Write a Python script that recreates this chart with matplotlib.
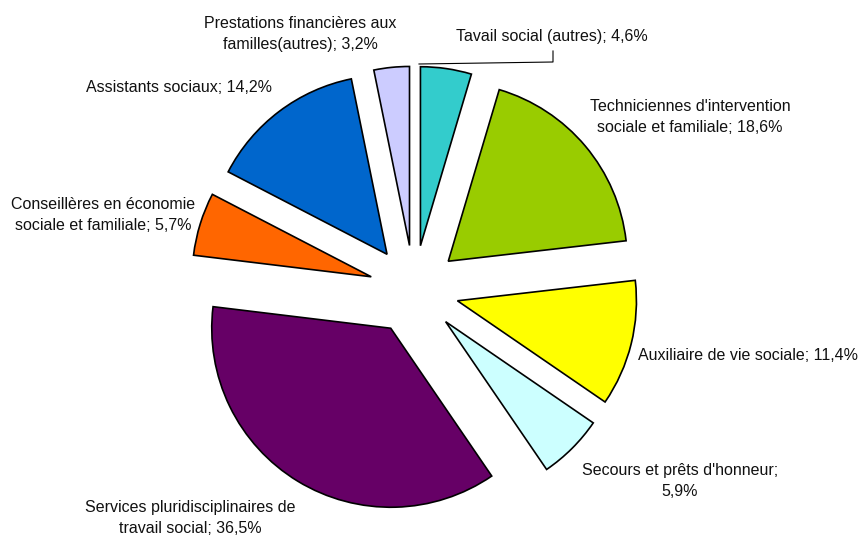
import matplotlib.pyplot as plt

# Parts (sens horaire depuis le haut)
libelles = ["Tavail social (autres); 4,6%",
            "Techniciennes d'intervention\nsociale et familiale; 18,6%",
            "Auxiliaire de vie sociale; 11,4%",
            "Secours et prêts d'honneur;\n5,9%",
            "Services pluridisciplinaires de\ntravail social; 36,5%",
            "Conseillères en économie\nsociale et familiale; 5,7%",
            "Assistants sociaux; 14,2%",
            "Prestations financières aux\nfamilles(autres); 3,2%"]
valeurs = [4.6, 18.6, 11.4, 5.9, 36.5, 5.7, 14.2, 3.2]
couleurs = ["#33CCCC", "#99CC00", "#FFFF00", "#CCFFFF",
            "#660066", "#FF6600", "#0066CC", "#CCCCFF"]

# Position des étiquettes (pixels dans l'image)
pos_etiquettes = [(552, 37), (690, 117), (748, 355), (680, 481),
                  (190, 518), (103, 215), (179, 88), (300, 34)]

W, H = 861, 536
cx, cy, r = 414, 290, 179

fig = plt.figure(figsize=(W / 100, H / 100), dpi=100)
ax = fig.add_axes([0, 0, 1, 1])

ax.pie(valeurs, colors=couleurs, startangle=90, counterclock=False,
       explode=[0.25] * len(valeurs), radius=1, center=(0, 0),
       wedgeprops=dict(edgecolor='black', linewidth=1.2), frame=False)
ax.set_xlim(-cx / r, (W - cx) / r)
ax.set_ylim(-(H - cy) / r, cy / r)
ax.set_aspect('auto')
ax.axis('off')

def px(x, y):
    return (x - cx) / r, (cy - y) / r

for txt, (x, y) in zip(libelles, pos_etiquettes):
    ax.text(*px(x, y), txt, ha='center', va='center', fontsize=11.5,
            family='Liberation Sans', linespacing=1.5, color='#111111')

# Ligne de rappel pour "Tavail social"
xs, ys = zip(px(553, 51), px(553, 62), px(419, 64))
ax.plot(xs, ys, color='black', linewidth=0.8)

fig.savefig('out.png', dpi=100, facecolor='white')
